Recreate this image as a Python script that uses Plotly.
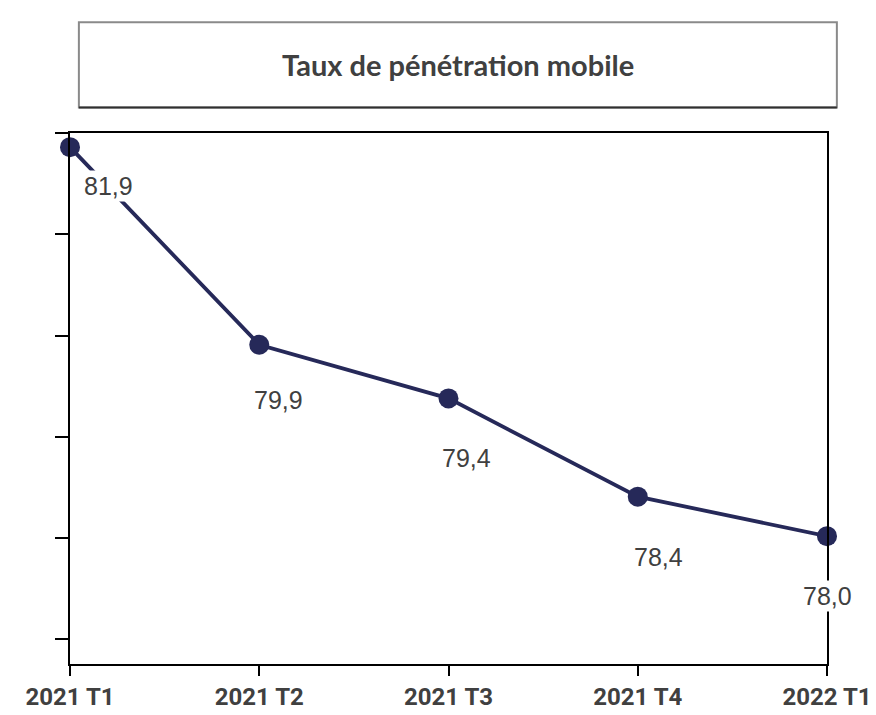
import plotly.graph_objects as go

# values (positions), labels as printed
quarters = ['2021 T1', '2021 T2', '2021 T3', '2021 T4', '2022 T1']
penetration = [81.86, 79.91, 79.38, 78.41, 78.02]
labels = ['81,9', '79,9', '79,4', '78,4', '78,0']

navy = '#262959'
grey_txt = '#404040'

fig = go.Figure()
fig.add_trace(go.Scatter(
    x=quarters, y=penetration, mode='lines+markers',
    line=dict(color=navy, width=3.8),
    marker=dict(color=navy, size=20),
    cliponaxis=False, showlegend=False, hoverinfo='skip'))

# label offsets (px) from each point
shifts = [(38, -39), (19, -55), (18, -60), (21, -60), (0, -60)]
for q, v, t, (dx, dy) in zip(quarters, penetration, labels, shifts):
    fig.add_annotation(x=q, y=v, text=t, showarrow=False,
                       xshift=dx, yshift=dy, xanchor='center', yanchor='middle',
                       bgcolor='white', borderpad=1,
                       font=dict(family='Liberation Sans, Arial', size=25, color=grey_txt))

# title box
fig.add_shape(type='rect', xref='paper', yref='paper',
              x0=(71 - 62) / 767, x1=(839 - 62) / 767,
              y0=(667 - 99) / 542, y1=(667 - 12) / 542,
              line=dict(color='#8a8a8a', width=2))
fig.add_shape(type='line', xref='paper', yref='paper',
              x0=(71 - 62) / 767, x1=(839 - 62) / 767,
              y0=(667 - 99) / 542, y1=(667 - 99) / 542,
              line=dict(color='#303030', width=2))
fig.add_annotation(xref='paper', yref='paper',
                   x=(455 - 62) / 767, y=(667 - 55) / 542,
                   text='<b>Taux de pénétration mobile</b>', showarrow=False,
                   xanchor='center', yanchor='middle',
                   font=dict(family='Lato, Arial', size=29, color=grey_txt))

fig.update_layout(
    width=876, height=715,
    margin=dict(l=62, r=47, t=125, b=48),
    paper_bgcolor='white', plot_bgcolor='white',
    xaxis=dict(type='category', range=[0, 4], showgrid=False,
               showline=True, linecolor='black', linewidth=2, mirror=True,
               ticks='outside', ticklen=10, tickwidth=2, tickcolor='black',
               tickfont=dict(family='Roboto, Arial', size=24, color=grey_txt,
                             weight='bold')),
    yaxis=dict(range=[76.758, 82], dtick=1, tick0=0, showgrid=False,
               zeroline=False, showticklabels=False,
               showline=True, linecolor='black', linewidth=2, mirror=True,
               ticks='outside', ticklen=13, tickwidth=2, tickcolor='black'),
)

fig.write_html('out.html')
